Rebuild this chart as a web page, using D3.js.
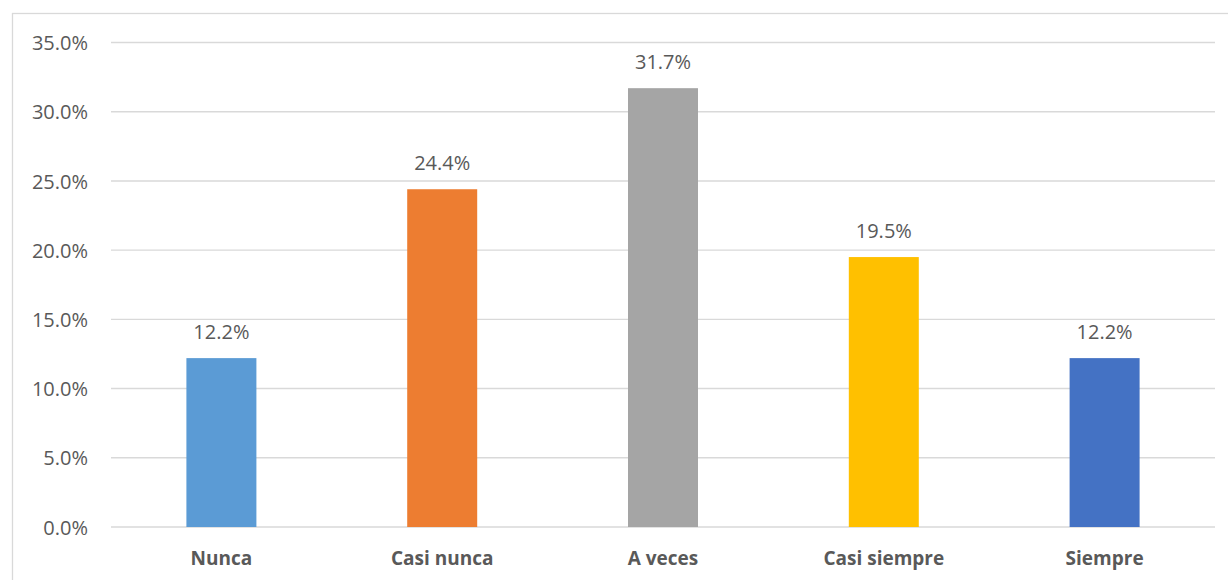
<!DOCTYPE html>
<html>
<head>
<meta charset="utf-8">
<script src="https://cdn.jsdelivr.net/npm/d3@7"></script>
<style>
  html, body { margin: 0; padding: 0; background: #fff; }
  svg { display: block; }
</style>
</head>
<body>
<svg id="chart" width="1228" height="580"></svg>
<script>
// Frequency distribution of responses
const categories = ["Nunca", "Casi nunca", "A veces", "Casi siempre", "Siempre"];
const values = [12.2, 24.4, 31.7, 19.5, 12.2];
const colors = ["#5B9BD5", "#ED7D31", "#A5A5A5", "#FFC000", "#4472C4"];
const yTicks = [0, 5, 10, 15, 20, 25, 30, 35];

const svg = d3.select("#chart");
const font = "'Open Sans', 'Liberation Sans', sans-serif";
const textColor = "#595959";

// Chart frame
svg.append("rect")
  .attr("x", 12.5).attr("y", 13.5)
  .attr("width", 1240).attr("height", 600)
  .attr("fill", "none").attr("stroke", "#d9d9d9").attr("stroke-width", 1.3);

const plot = { left: 111, right: 1215, top: 42.5, bottom: 527 };

const x = d3.scaleBand()
  .domain(categories)
  .range([plot.left, plot.right])
  .paddingInner(0.683)
  .paddingOuter(0.3415);

const y = d3.scaleLinear()
  .domain([0, 35])
  .range([plot.bottom, plot.top]);

// Horizontal gridlines
svg.append("g")
  .selectAll("line")
  .data(yTicks)
  .join("line")
  .attr("x1", plot.left).attr("x2", plot.right)
  .attr("y1", d => y(d)).attr("y2", d => y(d))
  .attr("stroke", "#d9d9d9").attr("stroke-width", 1.4);

// Y axis labels
const yAxis = d3.axisLeft(y)
  .tickValues(yTicks)
  .tickFormat(d => d.toFixed(1) + "%")
  .tickSize(0)
  .tickPadding(0);

const yg = svg.append("g")
  .attr("transform", `translate(${plot.left - 23},0)`)
  .call(yAxis);
yg.select(".domain").remove();
yg.selectAll("text")
  .attr("font-family", font)
  .attr("font-size", 20)
  .attr("fill", textColor)
  .attr("dy", "0.36em");

// Bars
svg.append("g")
  .selectAll("rect")
  .data(values)
  .join("rect")
  .attr("x", (d, i) => x(categories[i]))
  .attr("width", x.bandwidth())
  .attr("y", d => y(d))
  .attr("height", d => y(0) - y(d))
  .attr("fill", (d, i) => colors[i]);

// Value labels
svg.append("g")
  .selectAll("text")
  .data(values)
  .join("text")
  .attr("x", (d, i) => x(categories[i]) + x.bandwidth() / 2)
  .attr("y", d => y(d) - 19)
  .attr("text-anchor", "middle")
  .attr("font-family", font)
  .attr("font-size", 20)
  .attr("fill", textColor)
  .text(d => d.toFixed(1) + "%");

// Category labels
const xAxis = d3.axisBottom(x).tickSize(0).tickPadding(0);
const xg = svg.append("g")
  .attr("transform", `translate(0,${plot.bottom + 38})`)
  .call(xAxis);
xg.select(".domain").remove();
xg.selectAll("text")
  .attr("font-family", font)
  .attr("font-size", 19)
  .attr("font-weight", "bold")
  .attr("fill", textColor)
  .attr("dy", 0);
</script>
</body>
</html>
